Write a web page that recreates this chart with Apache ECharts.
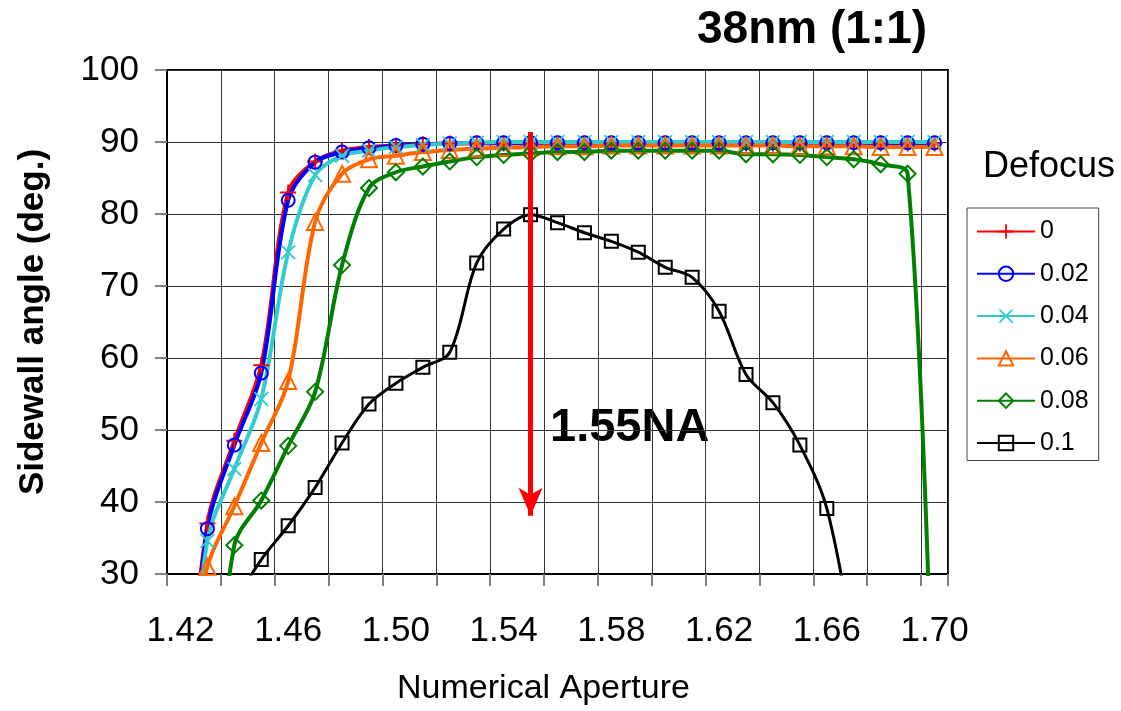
<!DOCTYPE html>
<html>
<head>
<meta charset="utf-8">
<script src="https://cdn.jsdelivr.net/npm/echarts@6/dist/echarts.min.js"></script>
<style>html,body{margin:0;padding:0;background:#fff;}#c{width:1121px;height:711px;}</style>
</head>
<body>
<div id="c"></div>
<script>
const naCategories = ['1.42','1.43','1.44','1.45','1.46','1.47','1.48','1.49','1.50','1.51','1.52','1.53','1.54','1.55','1.56','1.57','1.58','1.59','1.60','1.61','1.62','1.63','1.64','1.65','1.66','1.67','1.68','1.69','1.70'];
const seriesNames = ['0','0.02','0.04','0.06','0.08','0.1'];
const defocus0   = [0, 37.0, 48.5, 59.0, 83.0, 87.3, 88.8, 89.3, 89.5, 89.7, 89.8, 89.8, 89.8, 89.8, 89.8, 89.8, 89.8, 89.8, 89.8, 89.8, 89.8, 89.8, 89.8, 89.8, 89.8, 89.8, 89.8, 89.8, 89.8];
const defocus002 = [0, 36.3, 47.9, 57.9, 81.9, 87.2, 88.6, 89.2, 89.5, 89.7, 89.8, 89.9, 89.9, 89.9, 89.9, 89.9, 89.9, 89.9, 89.9, 89.9, 89.9, 89.9, 89.9, 89.9, 89.9, 89.9, 89.9, 89.9, 89.9];
const defocus004 = [0, 34.6, 44.6, 54.3, 74.7, 85.4, 88.1, 88.8, 89.3, 89.6, 89.8, 89.9, 90.0, 90.0, 90.0, 90.0, 90.0, 90.0, 90.0, 90.0, 90.0, 90.0, 90.0, 90.0, 90.0, 90.0, 90.0, 90.0, 90.0];
const defocus006 = [10, 31.0, 39.4, 48.2, 56.8, 78.9, 85.6, 87.6, 88.1, 88.6, 88.9, 89.1, 89.2, 89.3, 89.4, 89.4, 89.5, 89.5, 89.5, 89.5, 89.5, 89.5, 89.5, 89.4, 89.4, 89.4, 89.3, 89.3, 89.3];
const defocus008 = [null, 0, 34.0, 40.2, 47.8, 55.3, 72.9, 83.6, 85.8, 86.6, 87.3, 87.9, 88.2, 88.4, 88.6, 88.6, 88.8, 88.8, 88.8, 88.8, 88.8, 88.3, 88.3, 88.2, 87.9, 87.6, 86.9, 85.6, 0];
const defocus010 = [null, null, 26, 32.0, 36.7, 42.0, 48.2, 53.6, 56.5, 58.7, 60.8, 73.2, 77.9, 79.9, 78.8, 77.4, 76.2, 74.7, 72.6, 71.2, 66.5, 57.7, 53.8, 47.9, 39.1, 20, null, null, null];
const yTicks = [30, 40, 50, 60, 70, 80, 90, 100];
const arrowNA = '1.55';
const arrowFrom = 91.4;
const arrowTo = 38.1;

const FONT = 'Liberation Sans, Arial, Helvetica, sans-serif';
const plusPath = 'path://M7,0h2v7h7v2h-7v7h-2v-7h-7v-2h7z';
const crossPath = 'path://M1.4,0L8,6.6L14.6,0L16,1.4L9.4,8L16,14.6L14.6,16L8,9.4L1.4,16L0,14.6L6.6,8L0,1.4Z';

// gridline axis in half-category units: category boundary k -> 2k (every 2 categories = 4 units)
const gridUnits = naCategories.length * 2;

function mk(name, data, color, symbol, size, hollow, lw) {
  return {
    name: name, type: 'line', xAxisIndex: 0, yAxisIndex: 0,
    data: data, smooth: 0.33, clip: true,
    symbol: symbol, symbolSize: size, showAllSymbol: true, connectNulls: false,
    color: color,
    lineStyle: { color: color, width: lw },
    itemStyle: hollow ? { color: 'none', borderColor: color, borderWidth: 2 } : { color: color, borderWidth: 0 },
    emphasis: { disabled: true },
    animation: false
  };
}

const series = [
  mk(seriesNames[0], defocus0, '#FF0000', plusPath, 16, false, 4),
  mk(seriesNames[1], defocus002, '#0000FF', 'circle', 13, true, 4),
  mk(seriesNames[2], defocus004, '#33CCCC', crossPath, 15, false, 4),
  mk(seriesNames[3], defocus006, '#FF6600', 'triangle', 16, true, 4),
  mk(seriesNames[4], defocus008, '#008000', 'diamond', 16, true, 4),
  mk(seriesNames[5], defocus010, '#000000', 'rect', 13, true, 3)
];
series[5].markLine = {
  silent: true,
  symbol: ['none', 'arrow'],
  symbolSize: [18, 28],
  label: { show: false },
  lineStyle: { color: '#FF0000', width: 5, type: 'solid' },
  emphasis: { disabled: true },
  data: [[{ coord: [arrowNA, arrowFrom] }, { coord: [arrowNA, arrowTo] }]]
};

const chart = echarts.init(document.getElementById('c'));
chart.setOption({
  backgroundColor: '#ffffff',
  animation: false,
  title: [
    { text: '38nm (1:1)', left: 812, top: 7, textAlign: 'center', padding: 0,
      textStyle: { fontFamily: FONT, fontSize: 46, fontWeight: 'bold', color: '#000' } },
    { text: 'Defocus', left: 1049, top: 149, textAlign: 'center', padding: 0,
      textStyle: { fontFamily: FONT, fontSize: 36, fontWeight: 'normal', color: '#000' } }
  ],
  legend: {
    orient: 'vertical', left: 967, top: 208,
    padding: [11, 10, 5, 9],
    itemWidth: 58, itemHeight: 18, itemGap: 17.3,
    borderColor: '#444', borderWidth: 1, backgroundColor: '#fff',
    textStyle: { fontFamily: FONT, fontSize: 25, color: '#000' },
    data: seriesNames
  },
  grid: { left: 167, right: 173, top: 70, bottom: 137, show: true, borderColor: '#000', borderWidth: 2, backgroundColor: 'transparent' },
  xAxis: [{
    type: 'category', data: naCategories, boundaryGap: true,
    name: 'Numerical Aperture', nameLocation: 'middle', nameGap: 98,
    nameTextStyle: { fontFamily: FONT, fontSize: 34, color: '#000', padding: [0, 28, 0, 0] },
    axisLine: { show: true, lineStyle: { color: '#000', width: 2 } },
    axisTick: { show: false },
    axisLabel: { interval: 3, margin: 40, fontFamily: FONT, fontSize: 35, color: '#000' },
    splitLine: { show: false }
  }, {
    type: 'value', min: 0, max: gridUnits, interval: 4, position: 'bottom',
    axisLine: { show: false },
    axisTick: { show: true, length: 12, lineStyle: { color: '#808080', width: 2 } },
    axisLabel: { show: false },
    splitLine: { show: true, lineStyle: { color: '#333', width: 1 } }
  }],
  yAxis: {
    type: 'value', min: yTicks[0], max: yTicks[yTicks.length - 1], interval: 10,
    name: 'Sidewall angle (deg.)', nameLocation: 'middle', nameGap: 116, nameRotate: 90,
    nameTextStyle: { fontFamily: FONT, fontSize: 35, fontWeight: 'bold', color: '#000' },
    axisLine: { show: true, lineStyle: { color: '#000', width: 2 } },
    axisTick: { show: true, length: 12, lineStyle: { color: '#808080', width: 2 } },
    axisLabel: { margin: 28, fontFamily: FONT, fontSize: 35, color: '#000' },
    splitLine: { show: true, lineStyle: { color: '#333', width: 1 } }
  },
  graphic: [
    { type: 'text', x: 550, y: 428, silent: true,
      style: { text: '1.55NA', fontFamily: FONT, fontSize: 47, fontWeight: 'bold', fill: '#000', align: 'left', verticalAlign: 'middle' } }
  ],
  series: series
});
</script>
</body>
</html>
